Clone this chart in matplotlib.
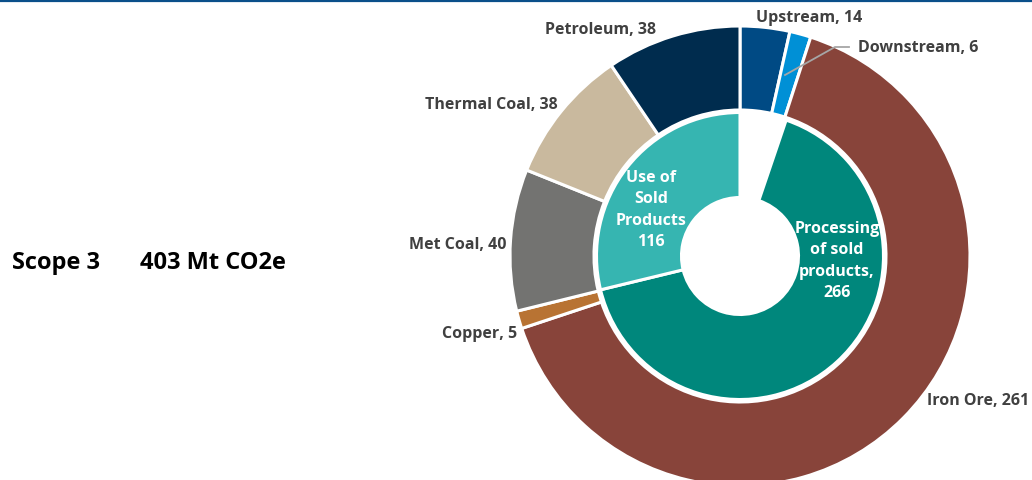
import matplotlib
matplotlib.use("Agg")
import matplotlib.pyplot as plt
from matplotlib.lines import Line2D

plt.rcParams['font.family'] = ['Open Sans', 'DejaVu Sans']

# Outer ring: emissions by source (Mt CO2e), clockwise from 12 o'clock
outer_labels = ["Upstream", "Downstream", "Iron Ore", "Copper",
                "Met Coal", "Thermal Coal", "Petroleum"]
outer_values = [14, 6, 261, 5, 40, 38, 38]
outer_colors = ["#004a84", "#0090d6", "#88443a", "#b87333",
                "#737371", "#c9b99e", "#002c4e"]

# Inner ring: by activity; the first slot is left blank
inner_labels = ["", "Processing\nof sold\nproducts,\n266", "Use of\nSold\nProducts\n116"]
inner_values = [21, 266, 116]
inner_colors = ["white", "#00877c", "#36b5b1"]

total_label = "403 Mt CO2e"
scope_label = "Scope 3"

W, H = 1032, 481
fig = plt.figure(figsize=(W / 100, H / 100), dpi=100)
ax = fig.add_axes([0, 0, 1, 1])

cx, cy = 740, H - 257
R_out, w_out = 230, 84
R_in, w_in = 143.5, 85

ax.pie(outer_values, colors=outer_colors, startangle=90, counterclock=False,
       center=(cx, cy), radius=R_out,
       wedgeprops=dict(width=w_out, edgecolor="white", linewidth=2.2))
ax.pie(inner_values, colors=inner_colors, startangle=90, counterclock=False,
       center=(cx, cy), radius=R_in,
       wedgeprops=dict(width=w_in, edgecolor="white", linewidth=2.2))

ax.set_xlim(0, W)
ax.set_ylim(0, H)
ax.set_aspect("equal")
ax.axis("off")

# Outer ring labels (pixel layout, y measured from top)
label_pos = {
    "Upstream": (809, 18),
    "Downstream": (918, 48),
    "Iron Ore": (978, 401),
    "Copper": (480, 334),
    "Met Coal": (458, 245),
    "Thermal Coal": (491, 105),
    "Petroleum": (600, 30),
}
grey_txt = "#404040"
for name, val in zip(outer_labels, outer_values):
    x, y = label_pos[name]
    ax.text(x, H - y, f"{name}, {val}", ha="center", va="center",
            fontsize=11.5, fontweight="bold", color=grey_txt)

# Leader line for the thin Downstream slice
ax.add_line(Line2D([785, 835, 849], [H - 76, H - 48, H - 48],
                   color="#a6a6a6", linewidth=1.3))

# Inner ring labels
ax.text(651, H - 210, inner_labels[2], ha="center", va="center",
        fontsize=11.5, fontweight="bold", color="white", linespacing=1.45)
ax.text(837, H - 261, inner_labels[1], ha="center", va="center",
        fontsize=11.5, fontweight="bold", color="white", linespacing=1.45)

# Headline figure on the left
ax.text(12, H - 269, scope_label, ha="left", va="baseline",
        fontsize=17, fontweight="bold", color="black")
ax.text(140, H - 269, total_label, ha="left", va="baseline",
        fontsize=17, fontweight="bold", color="black")

# Rule across the top
fig.add_artist(Line2D([0, 1], [1 - 2 / H, 1 - 2 / H], transform=fig.transFigure,
                      color="#0a4f8a", linewidth=1.6))

fig.savefig("out.png", dpi=100, facecolor="white")
